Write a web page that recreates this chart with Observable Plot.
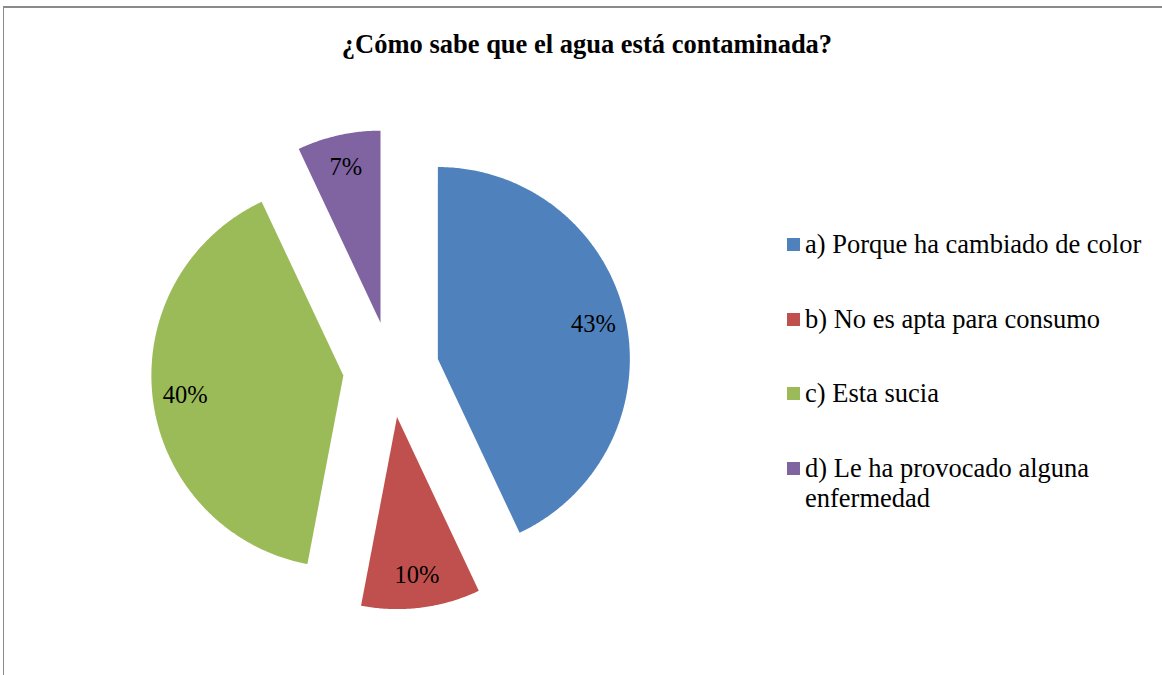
<!DOCTYPE html>
<html>
<head>
<meta charset="utf-8">
<script src="https://cdn.jsdelivr.net/npm/d3@7"></script>
<script src="https://cdn.jsdelivr.net/npm/@observablehq/plot@0.6"></script>
<style>
  html, body { margin: 0; padding: 0; background: #fff; }
  #wrap { position: relative; width: 1162px; height: 675px; overflow: hidden; font-family: "Liberation Serif", "Times New Roman", serif; }
  #frame { position: absolute; left: 3px; top: 6px; width: 1200px; height: 700px; border-top: 2px solid #8a8a8a; border-left: 1px solid #8a8a8a; box-sizing: border-box; }
  #title { position: absolute; left: 6px; top: 29px; width: 1162px; text-align: center; font-weight: bold; font-size: 26.5px; line-height: 30px; color: #000; }
  #chart { position: absolute; left: 0; top: 0; }
  #legend { position: absolute; left: 787px; top: 229px; display: flex; flex-direction: column; gap: 44.5px; }
  .item { display: flex; align-items: flex-start; }
  .sw { width: 13px; height: 13px; margin-top: 9px; margin-right: 5px; flex: none; }
  .lab { width: 350px; font-size: 26.5px; line-height: 30px; color: #000; }
</style>
</head>
<body>
<div id="wrap">
  <div id="frame"></div>
  <div id="chart"></div>
  <div id="title"></div>
  <div id="legend"></div>
</div>
<script>
const title = "¿Cómo sabe que el agua está contaminada?";
const categories = [
  "a) Porque ha cambiado de color",
  "b) No es apta para consumo",
  "c) Esta sucia",
  "d) Le ha provocado alguna enfermedad"
];
const values = [43, 10, 40, 7];
const palette = ["#4F81BD", "#C0504D", "#9BBB59", "#8064A2"];

// layout constants (pixels)
const W = 1162, H = 675, R = 192, CX = 390.5, CY = 369;
const EXPLODE = 48 / R;     // explosion distance in radius units
const LABEL_R = 0.83;       // label distance from slice vertex, radius units

const total = d3.sum(values);
let acc = 0;
const slices = categories.map((c, i) => {
  const a0 = acc / total * 2 * Math.PI;
  acc += values[i];
  const a1 = acc / total * 2 * Math.PI;
  const mid = (a0 + a1) / 2;
  return {c, i, value: values[i], a0, a1, mid,
          ox: EXPLODE * Math.sin(mid), oy: EXPLODE * Math.cos(mid)};
});

const pts = slices.flatMap(s => {
  const n = Math.max(2, Math.ceil((s.a1 - s.a0) / (Math.PI / 360)));
  const arr = [{c: s.c, x: s.ox, y: s.oy}];
  for (let k = 0; k <= n; k++) {
    const a = s.a0 + (s.a1 - s.a0) * k / n;
    arr.push({c: s.c, x: s.ox + Math.sin(a), y: s.oy + Math.cos(a)});
  }
  arr.push({c: s.c, x: s.ox, y: s.oy});
  return arr;
});

const chart = Plot.plot({
  width: W,
  height: H,
  margin: 0,
  style: {background: "transparent", overflow: "visible"},
  x: {domain: [-CX / R, (W - CX) / R], axis: null},
  y: {domain: [-(H - CY) / R, CY / R], axis: null},
  color: {domain: categories, range: palette},
  marks: [
    Plot.line(pts, {x: "x", y: "y", z: "c", fill: "c", stroke: "none", curve: "linear"}),
    Plot.text(slices, {
      x: s => s.ox + LABEL_R * Math.sin(s.mid),
      y: s => s.oy + LABEL_R * Math.cos(s.mid),
      text: s => Math.round(s.value / total * 100) + "%",
      fontSize: 24.5,
      fontFamily: "Liberation Serif",
      fill: "#000",
      textAnchor: "middle",
      lineAnchor: "middle"
    })
  ]
});
document.getElementById("chart").appendChild(chart);
document.getElementById("title").textContent = title;

const legend = document.getElementById("legend");
categories.forEach((c, i) => {
  const item = document.createElement("div");
  item.className = "item";
  const sw = document.createElement("div");
  sw.className = "sw";
  sw.style.background = chart.scale("color").apply(c);
  const lab = document.createElement("div");
  lab.className = "lab";
  lab.textContent = c;
  item.appendChild(sw);
  item.appendChild(lab);
  legend.appendChild(item);
});
</script>
</body>
</html>
